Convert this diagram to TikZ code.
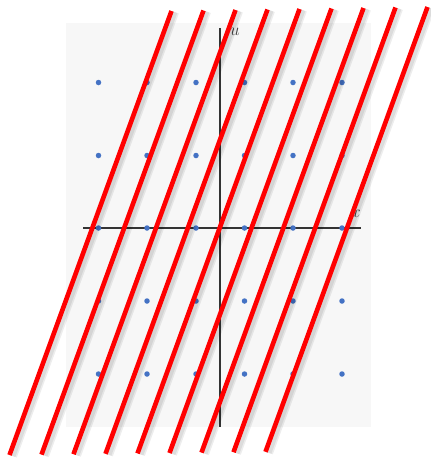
\documentclass[tikz,border=0pt]{standalone}
\usetikzlibrary{calc}
\definecolor{bgpanel}{HTML}{F7F7F7}
\definecolor{dotblue}{HTML}{4472C4}
\definecolor{redline}{HTML}{FF0000}
\tikzset{
  latdot/.style={circle,fill=dotblue,inner sep=0pt,minimum size=5.5pt},
  axisline/.style={draw=black!80,line width=1.3pt},
  redstroke/.style={draw=redline,line width=4.6pt},
  shadowstroke/.style={draw=black,opacity=0.07,line width=6pt},
  axlabel/.style={font=\fontsize{17}{17}\selectfont,inner sep=0pt,text=black!75}
}
\begin{document}
\begin{tikzpicture}[x=1pt,y=-1pt]
\useasboundingbox (0,0) rectangle (431,459);
\fill[bgpanel] (66,23) rectangle (371,427);
% axes
\coordinate (ytop) at (220,28);
\coordinate (ybot) at (220,427);
\coordinate (xl) at (83,228);
\coordinate (xr) at (361,228);
\draw[axisline] (ytop) -- (ybot);
\draw[axisline] (xl) -- (xr);
\node[axlabel] (ulab) at (235,32) {$u$};
\node[axlabel] (xlab) at (356,214) {$x$};
% lattice dots
\foreach \i/\xx in {1/98.5,2/147,3/196,4/244.5,5/293,6/342}{
  \foreach \j/\yy in {1/82.5,2/155.5,3/228,4/301,5/374}{
    \node[latdot] (d\i\j) at (\xx,\yy) {};
  }
}
% red lines with soft shadow
\foreach \k in {0,...,8}{
  \coordinate (b\k) at ({9.5+32*\k},{455-0.4*\k});
  \coordinate (t\k) at ({171.5+32*\k},{11-0.5*\k});
  \draw[shadowstroke] ($(b\k)+(3,1)$) -- ($(t\k)+(3,1)$);
  \draw[shadowstroke] ($(b\k)+(4.5,1.5)$) -- ($(t\k)+(4.5,1.5)$);
  \draw[redstroke] (b\k) -- (t\k);
}
\end{tikzpicture}
\end{document}
